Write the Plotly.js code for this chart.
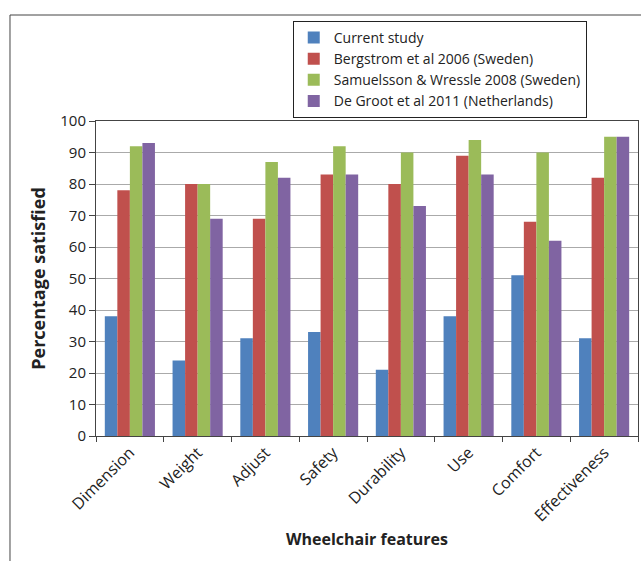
<!DOCTYPE html>
<html>
<head>
<meta charset="utf-8">
<script src="https://cdn.plot.ly/plotly-3.0.1.min.js"></script>
<style>html,body{margin:0;padding:0;background:#fff;}#chart{width:641px;height:561px;}</style>
</head>
<body>
<div id="chart"></div>
<script>
var categories = ["Dimension", "Weight", "Adjust", "Safety", "Durability", "Use", "Comfort", "Effectiveness"];
var seriesNames = ["Current study", "Bergstrom et al 2006 (Sweden)", "Samuelsson & Wressle 2008 (Sweden)", "De Groot et al 2011 (Netherlands)"];
var currentStudy = [38, 24, 31, 33, 21, 38, 51, 31];
var bergstrom = [78, 80, 69, 83, 80, 89, 68, 82];
var samuelsson = [92, 80, 87, 92, 90, 94, 90, 95];
var deGroot = [93, 69, 82, 83, 73, 83, 62, 95];
var colors = ["#4F81BD", "#C0504D", "#9BBB59", "#8064A2"];
var yTicks = [0, 10, 20, 30, 40, 50, 60, 70, 80, 90, 100];

var values = [currentStudy, bergstrom, samuelsson, deGroot];
var traces = values.map(function (v, i) {
  return {
    type: "bar",
    name: seriesNames[i],
    x: categories,
    y: v,
    marker: {color: colors[i], line: {width: 0}},
    hoverinfo: "x+y+name"
  };
});

var font = "'Open Sans', Lato, 'Liberation Sans', sans-serif";
var layout = {
  width: 641,
  height: 561,
  margin: {l: 96, r: 3, t: 121, b: 125},
  paper_bgcolor: "#ffffff",
  plot_bgcolor: "#ffffff",
  font: {family: font, size: 14, color: "#222"},
  barmode: "group",
  bargap: 0.26,
  bargroupgap: 0,
  showlegend: true,
  legend: {
    x: 0.363, y: 1.318, xanchor: "left", yanchor: "top",
    bordercolor: "#222", borderwidth: 1, bgcolor: "#fff",
    font: {family: font, size: 14, color: "#222"},
    tracegroupgap: 0, itemwidth: 30
  },
  xaxis: {
    type: "category",
    tickangle: -45,
    tickson: "boundaries",
    ticks: "outside",
    ticklen: 5,
    tickcolor: "#444",
    showline: true,
    linecolor: "#444",
    linewidth: 1,
    mirror: true,
    showgrid: false,
    tickfont: {family: font, size: 16, color: "#222"},
    title: {text: "<b>Wheelchair features</b>", font: {family: font, size: 16, color: "#222"}, standoff: 8}
  },
  yaxis: {
    range: [0, 100],
    tickvals: yTicks,
    ticks: "outside",
    ticklen: 6,
    tickcolor: "#444",
    showline: true,
    linecolor: "#444",
    linewidth: 1,
    mirror: true,
    showgrid: true,
    gridcolor: "#aaaaaa",
    gridwidth: 1,
    zeroline: false,
    tickfont: {family: font, size: 15, color: "#222"},
    title: {text: "<b>Percentage satisfied</b>", font: {family: font, size: 18, color: "#222"}, standoff: 9}
  },
  shapes: [
    {type: "line", xref: "paper", yref: "paper", x0: -0.1587, x1: 1.01, y0: 1.3365, y1: 1.3365, line: {color: "#444", width: 1}},
    {type: "line", xref: "paper", yref: "paper", x0: -0.1587, x1: -0.1587, y0: 1.3365, y1: -0.4, line: {color: "#444", width: 1}}
  ]
};

Plotly.newPlot("chart", traces, layout, {displayModeBar: false, staticPlot: true});
</script>
</body>
</html>
